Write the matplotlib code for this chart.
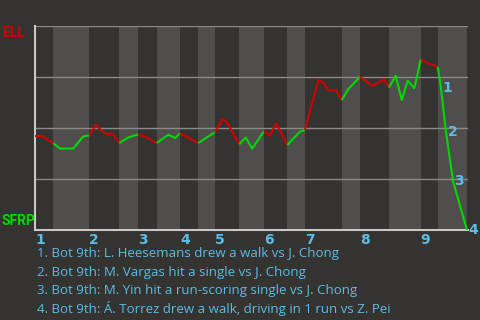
"""Win probability chart, ELL at SFRP."""

import matplotlib.pyplot as plt

# game progress (x) and ELL win probability (%) after each play
pos = [0, 7, 18.3, 25, 38.3, 48.3, 54.3, 61, 65, 72.3, 76.7, 79, 84.3,
       93, 101.7, 103.3, 110, 121.7, 133.3, 140, 145, 163.3, 180,
       187.3, 191.7, 204.3, 210.7, 217.3, 229, 235, 241, 252.3, 265, 270,
       283.3, 288.3, 293.3, 301, 306.7, 313.3, 325, 331.7, 337.7, 349.3,
       354, 360.7, 366.7, 372.7, 379.3, 381.7, 385.7, 391.7, 397.3, 402.7,
       406, 411, 418, 432]
ell_wp = [46.1, 46.1, 42.6, 39.9, 39.9, 45.9, 46.4, 51.6, 49.4, 46.7, 47.4,
          46.1, 42.6, 45.3, 46.7, 46.7, 45.8, 42.6, 46.7, 45.1, 47.4, 42.6,
          48.0, 54.3, 52.9, 42.0, 45.4, 39.9, 48.5, 46.1, 52.3, 41.7, 48.2,
          49.0, 73.5, 72.2, 68.5, 68.5, 63.7, 69.0, 75.1, 72.7, 70.7, 73.9,
          69.8, 75.6, 63.7, 73.2, 69.5, 74.4, 83.8, 82.0, 81.0, 80.0, 69.6,
          48.0, 24.0, 0.0]
# index of the last play of each half inning (top 1, bot 1, top 2, ...)
half_end = [2, 6, 12, 15, 17, 20, 21, 22, 25, 28, 31, 33, 38, 40, 44, 50,
            53, 57]
innings = ["1", "2", "3", "4", "5", "6", "7", "8", "9"]
highlights = [
    "1. Bot 9th: L. Heesemans drew a walk vs J. Chong",
    "2. Bot 9th: M. Vargas hit a single vs J. Chong",
    "3. Bot 9th: M. Yin hit a run-scoring single vs J. Chong",
    "4. Bot 9th: Á. Torrez drew a walk, driving in 1 run vs Z. Pei",
]
highlight_idx = [54, 55, 56, 57]

BG = "#353330"
BAND = "#4f4e4c"
RED = "#d00000"
GREEN = "#00d800"
BLUE = "#5bbde8"


def main():
    fig = plt.figure(figsize=(4.8, 3.2), dpi=100, facecolor=BG)
    ax = fig.add_axes([35 / 480, 90 / 320, 433 / 480, 204 / 320])
    ax.set_facecolor(BG)

    starts = [0] + half_end[:-1]
    for i, (s, e) in enumerate(zip(starts, half_end)):
        if i % 2 == 1:
            ax.axvspan(pos[s], pos[e], color=BAND, lw=0, zorder=0)
        color = RED if i % 2 == 0 else GREEN
        ax.plot(pos[s:e + 1], ell_wp[s:e + 1], color=color, lw=1.5,
                solid_capstyle="butt", zorder=3)

    for yv in [25, 50, 75, 100]:
        ax.axhline(yv, color="#8a8a8a", lw=1.0, zorder=1)

    ax.set_xlim(0, 433)
    ax.set_ylim(0, 100)
    ax.set_xticks([])
    ax.set_yticks([])
    for side in ["top", "right"]:
        ax.spines[side].set_visible(False)
    for side in ["left", "bottom"]:
        ax.spines[side].set_color("#c8c8c8")
        ax.spines[side].set_linewidth(1.5)
        ax.spines[side].set_zorder(2)

    # inning labels at the start of each top half
    for k, lab in enumerate(innings):
        x = pos[starts[2 * k]]
        ax.annotate(lab, (x, 0), xytext=(0, -2), textcoords="offset points",
                    ha="left", va="top", color=BLUE, fontsize=10,
                    fontweight="bold", annotation_clip=False)

    for n, idx in enumerate(highlight_idx):
        ax.annotate(str(n + 1), (pos[idx], ell_wp[idx]), xytext=(1, 0),
                    textcoords="offset points", ha="left", va="center",
                    color=BLUE, fontsize=10, fontweight="bold",
                    annotation_clip=False, zorder=4)

    fig.text(2 / 480, 1 - 33 / 320, "ELL", color=RED, fontsize=10,
             family="Roboto", fontweight="bold", va="center", ha="left")
    fig.text(2 / 480, 1 - 221 / 320, "SFRP", color=GREEN, fontsize=10,
             family="Roboto", fontweight="bold", va="center", ha="left")

    for n, line in enumerate(highlights):
        fig.text(37 / 480, 1 - (254 + 18.3 * n) / 320, line, color=BLUE,
                 fontsize=9.5, family="Open Sans", va="center", ha="left")

    fig.savefig("out.png", dpi=100, facecolor=BG)


if __name__ == "__main__":
    main()
